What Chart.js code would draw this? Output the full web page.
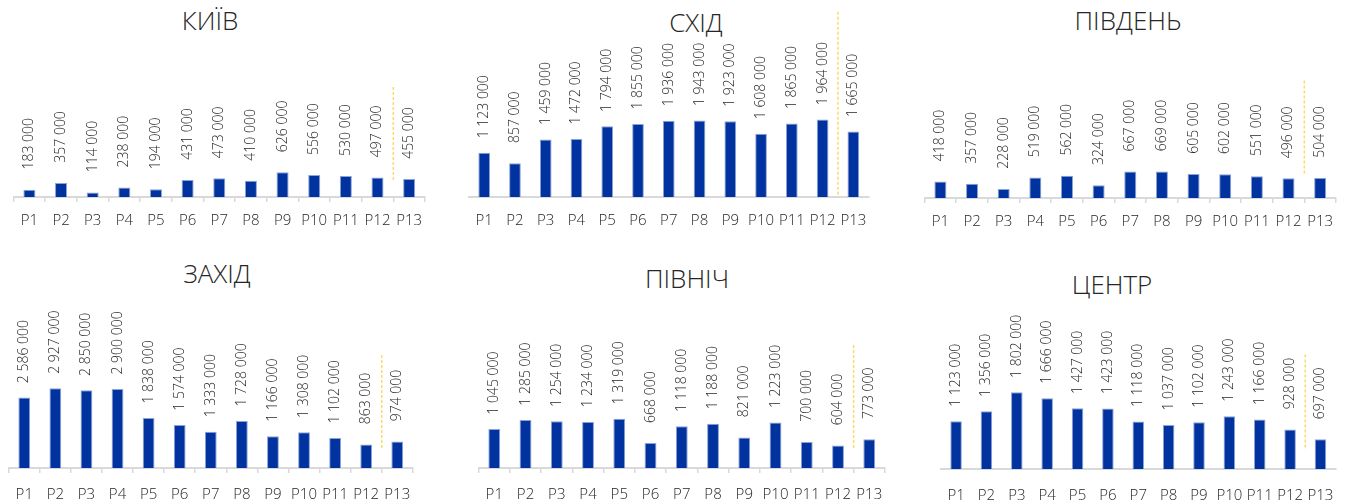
<!DOCTYPE html>
<html>
<head>
<meta charset="utf-8">
<script src="https://cdn.jsdelivr.net/npm/chart.js@4/dist/chart.umd.min.js"></script>
<style>
  html, body { margin: 0; padding: 0; background: #fff; }
  body { width: 1359px; height: 504px; position: relative; overflow: hidden; font-family: 'Open Sans', sans-serif; }
  canvas { position: absolute; }
  .ttl { position: absolute; transform: translate(-50%, -50%); font-size: 26px; font-weight: 300; color: #262626; white-space: nowrap; }
</style>
</head>
<body>
<script>
  // periods
  const periods = ['P1', 'P2', 'P3', 'P4', 'P5', 'P6', 'P7', 'P8', 'P9', 'P10', 'P11', 'P12', 'P13'];

  // values per region
  const kyiv    = [183000, 357000, 114000, 238000, 194000, 431000, 473000, 410000, 626000, 556000, 530000, 497000, 455000];
  const skhid   = [1123000, 857000, 1459000, 1472000, 1794000, 1855000, 1936000, 1943000, 1923000, 1608000, 1865000, 1964000, 1665000];
  const pivden  = [418000, 357000, 228000, 519000, 562000, 324000, 667000, 669000, 605000, 602000, 551000, 496000, 504000];
  const zakhid  = [2586000, 2927000, 2850000, 2900000, 1838000, 1574000, 1333000, 1728000, 1166000, 1308000, 1102000, 863000, 974000];
  const pivnich = [1045000, 1285000, 1254000, 1234000, 1319000, 668000, 1118000, 1188000, 821000, 1223000, 700000, 604000, 773000];
  const tsentr  = [1123000, 1356000, 1802000, 1666000, 1427000, 1423000, 1118000, 1037000, 1102000, 1243000, 1166000, 928000, 697000];

  const titles = ['КИЇВ', 'СХІД', 'ПІВДЕНЬ', 'ЗАХІД', 'ПІВНІЧ', 'ЦЕНТР'];
  const series = [kyiv, skhid, pivden, zakhid, pivnich, tsentr];

  // layout of each small chart (page pixels) + axis max + divider span (in values)
  const panels = [
    { top: 0,   left: 11,  right: 432,  axisY: 197, labelY: 221, ticks: true,  yMax: 5000000, divider: [380000, 2790000],  tx: 210,  ty: 20 },
    { top: 0,   left: 461, right: 881,  axisY: 197, labelY: 221, ticks: false, yMax: 5000000, divider: [50000, 4700000],   tx: 696,  ty: 22 },
    { top: 0,   left: 922, right: 1343, axisY: 198, labelY: 222, ticks: true,  yMax: 5000000, divider: [580000, 2970000],  tx: 1128, ty: 20 },
    { top: 250, left: 3,   right: 423,  axisY: 468, labelY: 495, ticks: true,  yMax: 8000000, divider: [660000, 4150000],  tx: 217,  ty: 273 },
    { top: 250, left: 473, right: 895,  axisY: 468, labelY: 495, ticks: true,  yMax: 5850000, divider: [480000, 3300000],  tx: 687,  ty: 278 },
    { top: 250, left: 930, right: 1351, axisY: 469, labelY: 496, ticks: false, yMax: 5150000, divider: [450000, 2690000],  tx: 1112, ty: 284 }
  ];

  const fmt = v => String(v).replace(/\B(?=(\d{3})+(?!\d))/g, ' ');

  // rotated value labels above the bars
  const valueLabels = {
    id: 'valueLabels',
    afterDatasetsDraw(chart) {
      const ctx = chart.ctx;
      const meta = chart.getDatasetMeta(0);
      const vals = chart.data.datasets[0].data;
      ctx.save();
      ctx.font = '300 14px "Open Sans"';
      ctx.fillStyle = '#262626';
      ctx.textAlign = 'center';
      ctx.textBaseline = 'middle';
      meta.data.forEach((bar, i) => {
        ctx.save();
        ctx.translate(bar.x, bar.y - 46);
        ctx.rotate(-Math.PI / 2);
        ctx.fillText(fmt(vals[i]), 0, 0);
        ctx.restore();
      });
      ctx.restore();
    }
  };

  // dashed divider between the last two periods
  const divider = {
    id: 'divider',
    afterDatasetsDraw(chart, args, opts) {
      const x = chart.scales.x, y = chart.scales.y;
      const n = chart.data.labels.length;
      const px = (x.getPixelForValue(n - 2) + x.getPixelForValue(n - 1)) / 2;
      const ctx = chart.ctx;
      ctx.save();
      ctx.strokeStyle = '#FFD966';
      ctx.lineWidth = 1.5;
      ctx.setLineDash([3, 2]);
      ctx.beginPath();
      ctx.moveTo(px, y.getPixelForValue(opts.to));
      ctx.lineTo(px, y.getPixelForValue(opts.from));
      ctx.stroke();
      ctx.restore();
    }
  };

  panels.forEach((p, k) => {
    const t = document.createElement('div');
    t.className = 'ttl';
    t.textContent = titles[k];
    t.style.left = p.tx + 'px';
    t.style.top = p.ty + 'px';
    document.body.appendChild(t);

    const tl = p.ticks ? 5 : 0;
    const pad = p.labelY - p.axisY - tl - 9;
    const cv = document.createElement('canvas');
    const w = p.right - p.left;
    const h = (p.axisY - p.top) + tl + 18 + 2 * pad;
    cv.width = w;
    cv.height = h;
    cv.style.left = p.left + 'px';
    cv.style.top = p.top + 'px';
    document.body.appendChild(cv);

    new Chart(cv.getContext('2d'), {
      type: 'bar',
      data: {
        labels: periods,
        datasets: [{
          data: series[k],
          backgroundColor: '#0033A0',
          borderColor: '#8da2d4',
          borderWidth: 1,
          barPercentage: 0.38,
          categoryPercentage: 1
        }]
      },
      options: {
        responsive: false,
        animation: false,
        layout: { padding: 0 },
        plugins: {
          legend: { display: false },
          tooltip: { enabled: false },
          divider: { from: p.divider[0], to: p.divider[1] }
        },
        scales: {
          x: {
            grid: { display: true, drawOnChartArea: false, drawTicks: p.ticks, tickLength: tl, color: '#d9d9d9', lineWidth: 1.5 },
            border: { display: true, color: '#d9d9d9', width: 2 },
            ticks: { color: '#262626', padding: pad, maxRotation: 0, autoSkip: false, font: { family: 'Open Sans', size: 15, weight: '300' } }
          },
          y: { display: false, min: 0, max: p.yMax }
        }
      },
      plugins: [valueLabels, divider]
    });
  });
</script>
</body>
</html>
